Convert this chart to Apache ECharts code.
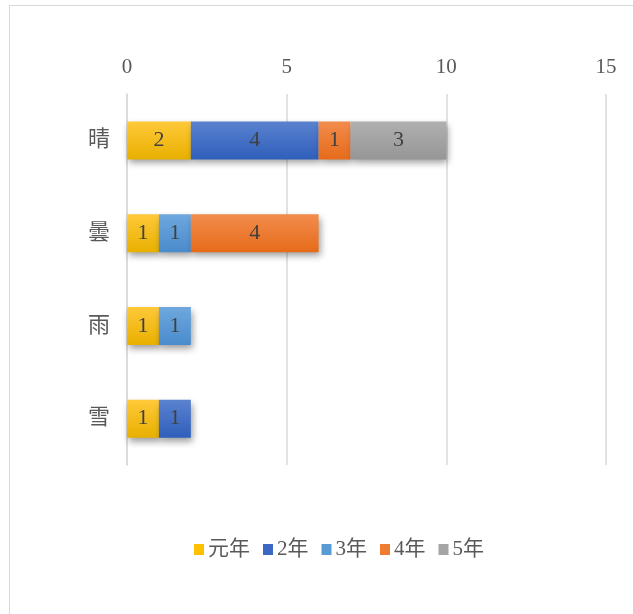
<!DOCTYPE html>
<html><head><meta charset="utf-8">
<script src="https://cdn.jsdelivr.net/npm/echarts@6/dist/echarts.min.js"></script>
<style>
html,body{margin:0;padding:0;background:#fff;}
#frame{position:absolute;left:9px;top:5px;width:640px;height:640px;border:1.5px solid #d9d9d9;box-sizing:border-box;}
#main{position:absolute;left:0;top:0;width:633px;height:614px;}
</style></head>
<body>
<div id="frame"></div>
<div id="main"></div>
<script>
const categories = ['晴', '曇', '雨', '雪'];
const seriesNames = ['元年', '2年', '3年', '4年', '5年'];
const v_gannen = [2, 1, 1, 1];
const v_2nen = [4, 0, 0, 1];
const v_3nen = [0, 1, 1, 0];
const v_4nen = [1, 4, 0, 0];
const v_5nen = [3, 0, 0, 0];
const xTicks = [0, 5, 10, 15];

const values = [v_gannen, v_2nen, v_3nen, v_4nen, v_5nen];
const colorsTop = ['#ffc93a', '#5a82cf', '#6ea8de', '#f28c4c', '#b0b0b0'];
const colorsBot = ['#e8b000', '#2f5fbb', '#4a8bcc', '#e66b1a', '#969696'];
const legendColors = ['#ffc000', '#3a68c2', '#5b9bd5', '#ed7d31', '#a5a5a5'];
const serif = '"Liberation Serif", "Noto Sans CJK JP", serif';

const chart = echarts.init(document.getElementById('main'));
const series = seriesNames.map((name, i) => ({
  name: name,
  type: 'bar',
  stack: 'total',
  barWidth: 38,
  data: values[i].map(v => v === 0 ? null : v),
  itemStyle: {
    color: new echarts.graphic.LinearGradient(0, 0, 0, 1, [
      {offset: 0, color: colorsTop[i]}, {offset: 1, color: colorsBot[i]}
    ]),
    shadowColor: 'rgba(0,0,0,0.4)', shadowBlur: 7, shadowOffsetX: 2, shadowOffsetY: 4
  },
  label: {show: true, position: 'inside', color: '#404040', fontSize: 22, fontFamily: serif}
}));

chart.setOption({
  animation: false,
  color: legendColors,
  grid: {left: 127, right: 27, top: 94, bottom: 149, containLabel: false},
  legend: {
    bottom: 49, left: 189, icon: 'rect', itemWidth: 10, itemHeight: 11, itemGap: 13,
    textStyle: {color: '#595959', fontSize: 21, fontFamily: serif, padding: [0, 0, 0, -1]},
    data: seriesNames.map((n, i) => ({name: n, itemStyle: {color: legendColors[i]}}))
  },
  xAxis: {
    type: 'value', position: 'top', min: xTicks[0], max: xTicks[xTicks.length - 1], interval: 5,
    axisLine: {show: false}, axisTick: {show: false},
    splitLine: {lineStyle: {color: '#d9d9d9', width: 1.5}},
    axisLabel: {color: '#595959', fontSize: 21, fontFamily: serif, margin: 16}
  },
  yAxis: {
    type: 'category', data: categories, inverse: true,
    axisLine: {show: true, lineStyle: {color: '#d9d9d9', width: 1.5}},
    axisTick: {show: false},
    axisLabel: {color: '#595959', fontSize: 22, fontFamily: serif, margin: 17}
  },
  series: series
});
</script>
</body></html>
